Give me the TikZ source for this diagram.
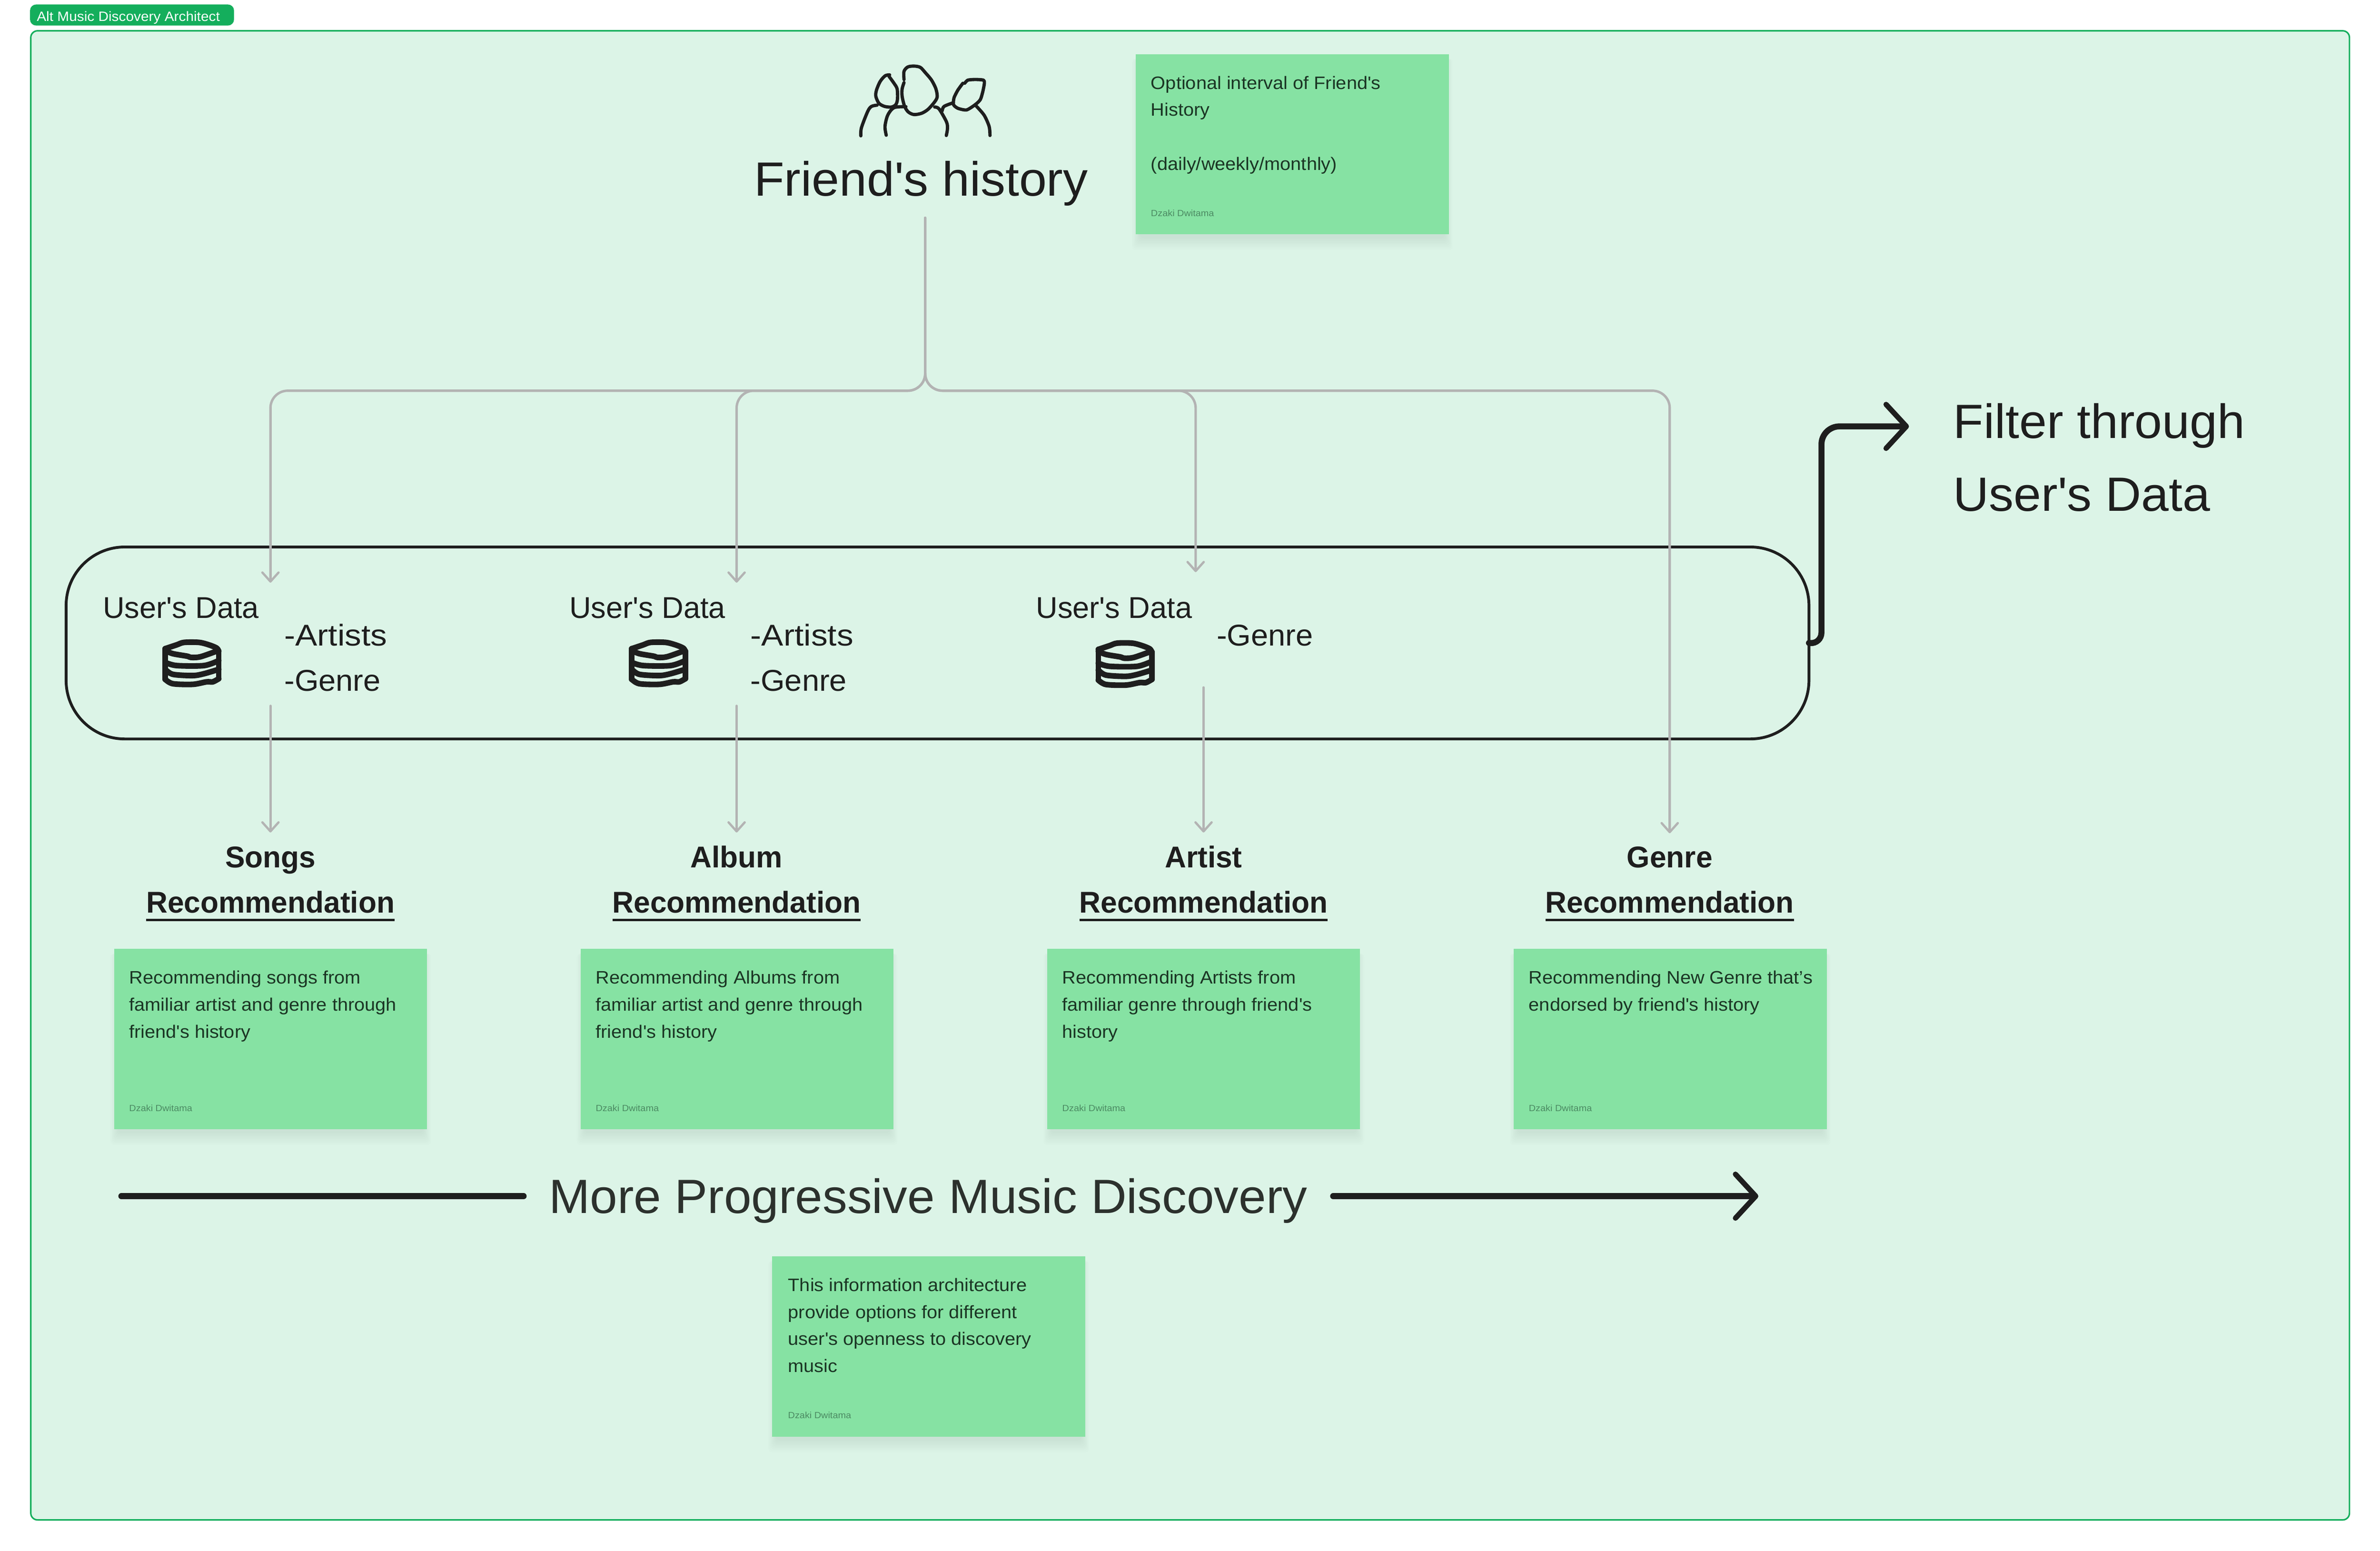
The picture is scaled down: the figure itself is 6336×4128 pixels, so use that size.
\documentclass[tikz,border=0pt]{standalone}
\usepackage{fontspec}
\setmainfont{Liberation Sans}[FakeStretch=1.05]
\newfontfamily\fontA{Liberation Sans}[FakeStretch=1.0]
\newfontfamily\fontB{Liberation Sans}[FakeStretch=1.03]
\newfontfamily\fontD{Liberation Sans}[FakeStretch=1.10]
\newfontfamily\fontM{Liberation Sans}[FakeStretch=1.025]
\newfontfamily\fontR{Liberation Sans}[FakeStretch=.985]
\usetikzlibrary{arrows.meta}
\definecolor{bgmint}{HTML}{DCF4E7}
\definecolor{framegreen}{HTML}{14AE5C}
\definecolor{stickygreen}{HTML}{86E2A3}
\definecolor{inkdark}{HTML}{1E1E1E}
\definecolor{inksoft}{HTML}{2C312D}
\definecolor{stickyink}{HTML}{1B3524}
\definecolor{authorink}{HTML}{4C8B63}
\definecolor{greyline}{HTML}{B3B3B3}
\newcommand{\qs}{\textquotesingle{}}
\newcommand{\myul}[1]{\setbox0\hbox{#1}\rlap{\rule[-2.2pt]{\wd0}{0.6pt}}\box0}
\newcommand{\stacklines}[1]{\begin{tabular}[t]{@{}l@{}}#1\end{tabular}}
\newcommand{\stickyshadow}[2]{%
  \foreach \k in {1,...,9}{%
    \fill[black,opacity=.009,rounded corners=1pt]
      ({#1+12-\k*2.5},{#2+12}) rectangle ({#1+821+\k*2.5},{#2+480+6+\k*4});
  }}
\newcommand{\dbicon}[2]{%
  \begin{scope}[shift={(#1,#2)},x=0.03333pt,y=-0.03333pt,line width=1.5pt,inkdark,line cap=round,line join=round]
    \draw plot[smooth,tension=.5] coordinates {(60,110)(150,80)(210,60)(330,60)(410,80)(470,105)(487,130)};
    \draw (60,110) -- (60,355);
    \draw (487,130) -- (487,350);
    \draw plot[smooth,tension=.5] coordinates {(60,125)(120,150)(235,170)(265,180)(340,175)(470,130)};
    \draw plot[smooth,tension=.5] coordinates {(60,220)(150,245)(370,245)(487,205)};
    \draw plot[smooth,tension=.5] coordinates {(60,275)(120,315)(280,325)(370,310)(487,275)};
    \draw plot[smooth,tension=.5] coordinates {(60,355)(120,390)(280,395)(390,375)(440,375)(487,350)};
  \end{scope}}
\tikzset{
  every node/.style={outer sep=0pt},
  sticky/.style={rectangle,fill=stickygreen,draw=none,anchor=north west,inner sep=0pt,minimum width=83.3pt,minimum height=48pt},
  stickytext/.style={anchor=base west,inner sep=0pt,text=stickyink,font=\fontsize{4.8}{7.2}\selectfont},
  author/.style={anchor=base west,inner sep=0pt,text=authorink,font=\fontsize{2.4}{3.6}\selectfont},
  bigtext/.style={inner sep=0pt,text=inkdark,font=\fontsize{12.8}{19.2}\selectfont\fontB},
  midtext/.style={anchor=base west,inner sep=0pt,text=inkdark,font=\fontsize{8}{12}\selectfont\fontB},
  rectitle/.style={anchor=base,inner sep=0pt,text=inkdark,font=\fontsize{8}{12}\selectfont\fontR\bfseries},
  greyarrow/.style={draw=greyline,line width=.65pt,line cap=round,rounded corners=4.6pt,
    -{Straight Barb[length=2.4pt,width=4.3pt,line width=.6pt,round]}},
  blackarrow/.style={draw=inkdark,line width=1.6pt,line cap=round,
    -{Straight Barb[length=5.4pt,width=11.7pt,line width=1.4pt,round]}},
}
\begin{document}
\begin{tikzpicture}[x=0.1pt,y=-0.1pt]
\useasboundingbox (0,0) rectangle (6336,4128);
\fill[white] (0,0) rectangle (6336,4128);

% section frame and tag
\node[rectangle,fill=bgmint,draw=framegreen,line width=.4pt,rounded corners=1.8pt,anchor=north west,inner sep=0pt,minimum width=617.3pt,minimum height=396.4pt] (frame) at (82,82) {};
\node[rectangle,fill=framegreen,rounded corners=1.6pt,anchor=north west,inner sep=0pt,minimum width=54.3pt,minimum height=5.6pt] (tag) at (80,12) {};
\node[anchor=base west,inner sep=0pt,text=white,font=\fontsize{3.6}{4.8}\selectfont] (tagtext) at (98,56) {Alt Music Discovery Architect};

% stickies
\stickyshadow{3024}{144}
\stickyshadow{304}{2526}
\stickyshadow{1546}{2526}
\stickyshadow{2788}{2526}
\stickyshadow{4030}{2526}
\stickyshadow{2056}{3344}
\node[sticky] (s0) at (3024,144) {};
\node[sticky] (s1) at (304,2526) {};
\node[sticky] (s2) at (1546,2526) {};
\node[sticky] (s3) at (2788,2526) {};
\node[sticky] (s4) at (4030,2526) {};
\node[sticky] (s5) at (2056,3344) {};

\node[stickytext] (s0t) at (3064,237) {\stacklines{Optional interval of Friend\qs s\\History\\ \\(daily/weekly/monthly)}};
\node[author] (s0a) at (3064,576) {Dzaki Dwitama};
\node[stickytext] (s1t) at (344,2619) {\stacklines{Recommending songs from\\familiar artist and genre through\\friend\qs s history}};
\node[author] (s1a) at (344,2958) {Dzaki Dwitama};
\node[stickytext] (s2t) at (1586,2619) {\stacklines{Recommending Albums from\\familiar artist and genre through\\friend\qs s history}};
\node[author] (s2a) at (1586,2958) {Dzaki Dwitama};
\node[stickytext] (s3t) at (2828,2619) {\stacklines{Recommending Artists from\\familiar genre through friend\qs s\\history}};
\node[author] (s3a) at (2828,2958) {Dzaki Dwitama};
\node[stickytext] (s4t) at (4070,2619) {\stacklines{Recommending New Genre that’s\\endorsed by friend\qs s history}};
\node[author] (s4a) at (4070,2958) {Dzaki Dwitama};
\node[stickytext] (s5t) at (2098,3437) {\stacklines{This information architecture\\provide options for different\\user\qs s openness to discovery\\music}};
\node[author] (s5a) at (2098,3775) {Dzaki Dwitama};

% headline
\node[bigtext,anchor=base] (friend) at (2452,521) {Friend\qs s history};
\begin{scope}[shift={(2230,150)},x=0.03333pt,y=-0.03333pt,line width=.87pt,inkdark,line cap=round,line join=round]
  \draw plot[smooth,tension=.5] coordinates {(415,148)(380,155)(340,200)(310,270)(305,320)(330,375)(375,400)(430,405)(465,385)(478,340)(475,260)(450,215)(410,160)};
  \draw plot[smooth,tension=.5] coordinates {(530,185)(530,120)(560,85)(610,78)(660,88)(700,130)(750,190)(785,260)(795,325)(770,370)(720,425)(670,455)(610,465)(565,445)(535,400)(515,320)(515,260)(530,210)};
  \draw plot[smooth,tension=.4] coordinates {(1000,215)(960,270)(930,330)(925,385)(960,415)(1030,428)(1100,385)(1140,345)(1160,280)(1172,215)(1165,190)(1100,185)(1040,190)(1015,215)};
  \draw plot[smooth,tension=.5] coordinates {(185,635)(190,570)(240,440)(270,400)(315,390)};
  \draw plot[smooth,tension=.5] coordinates {(388,630)(378,560)(400,470)(450,410)(545,402)};
  \draw plot[smooth,tension=.5] coordinates {(775,405)(810,420)(870,525)(877,580)(868,632)};
  \draw plot[smooth,tension=.5] coordinates {(835,435)(850,400)(925,370)};
  \draw plot[smooth,tension=.5] coordinates {(1105,395)(1170,470)(1210,560)(1217,632)};
\end{scope}

% filter panel
\node[rectangle,draw=inkdark,line width=.75pt,rounded corners=15.6pt,anchor=north west,inner sep=0pt,minimum width=464pt,minimum height=51.1pt] (ubox) at (176,1456) {};
\node[midtext,font=\fontsize{8}{12}\selectfont\fontA] (ud1) at (274,1646) {User\qs s Data};
\node[midtext,font=\fontsize{8}{12}\selectfont\fontA] (ud2) at (1516,1646) {User\qs s Data};
\node[midtext,font=\fontsize{8}{12}\selectfont\fontA] (ud3) at (2758,1646) {User\qs s Data};
\node[midtext,font=\fontsize{8}{12}\selectfont\fontD] (at1) at (757,1719) {-Artists};
\node[midtext] (ge1) at (757,1839) {-Genre};
\node[midtext,font=\fontsize{8}{12}\selectfont\fontD] (at2) at (1998,1719) {-Artists};
\node[midtext] (ge2) at (1998,1839) {-Genre};
\node[midtext] (ge3) at (3239,1719) {-Genre};
\dbicon{420}{1690}
\dbicon{1662}{1690}
\dbicon{2904}{1692}

\node[bigtext,anchor=base west] (filter1) at (5200,1167) {Filter through};
\node[bigtext,anchor=base west] (filter2) at (5200,1360) {User\qs s Data};

% recommendation titles
\node[rectitle] (r1a) at (720,2310) {Songs};
\node[rectitle] (r2a) at (1961,2310) {Album};
\node[rectitle] (r3a) at (3204,2310) {Artist};
\node[rectitle] (r4a) at (4445,2310) {Genre};
\node[rectitle] (r1b) at (720,2430) {\myul{Recommendation}};
\node[rectitle] (r2b) at (1961,2430) {\myul{Recommendation}};
\node[rectitle] (r3b) at (3204,2430) {\myul{Recommendation}};
\node[rectitle] (r4b) at (4445,2430) {\myul{Recommendation}};

% progress label
\node[inner sep=0pt,anchor=base,text=inksoft,font=\fontsize{12.8}{19.2}\selectfont\fontM] (more) at (2471,3230) {More Progressive Music Discovery};

% connector ends
\coordinate (trunk) at (2463,580);
\coordinate (split) at (2463,1040);
\coordinate (in1) at (720,1551);
\coordinate (in2) at (1961,1551);
\coordinate (in3) at (3183,1523);
\coordinate (in4) at (4445,2218);
\coordinate (out1) at (720,1879);
\coordinate (out2) at (1961,1879);
\coordinate (out3) at (3204,1830);
\coordinate (to1) at (720,2216);
\coordinate (to2) at (1961,2216);
\coordinate (to3) at (3204,2216);

\draw[greyarrow] (trunk) -- (split) -- (split -| in1) -- (in1);
\draw[greyarrow] (trunk) -- (split) -- (split -| in2) -- (in2);
\draw[greyarrow] (trunk) -- (split) -- (split -| in3) -- (in3);
\draw[greyarrow] (trunk) -- (split) -- (split -| in4) -- (in4);
\draw[greyarrow] (out1) -- (to1);
\draw[greyarrow] (out2) -- (to2);
\draw[greyarrow] (out3) -- (to3);

% thick arrows
\coordinate (fc1) at (4849,1714);
\coordinate (fc2) at (4849,1135);
\coordinate (ftip) at (5082,1135);
\draw[blackarrow] (ubox.east) [rounded corners=3pt] -- (fc1) [rounded corners=4.8pt] -- (fc2) -- (ftip);
\coordinate (pstart) at (323,3184);
\coordinate (pmid) at (1394,3184);
\coordinate (pres) at (3549,3184);
\coordinate (ptip) at (4681,3184);
\draw[draw=inkdark,line width=1.6pt,line cap=round] (pstart) -- (pmid);
\draw[blackarrow] (pres) -- (ptip);
\end{tikzpicture}
\end{document}
